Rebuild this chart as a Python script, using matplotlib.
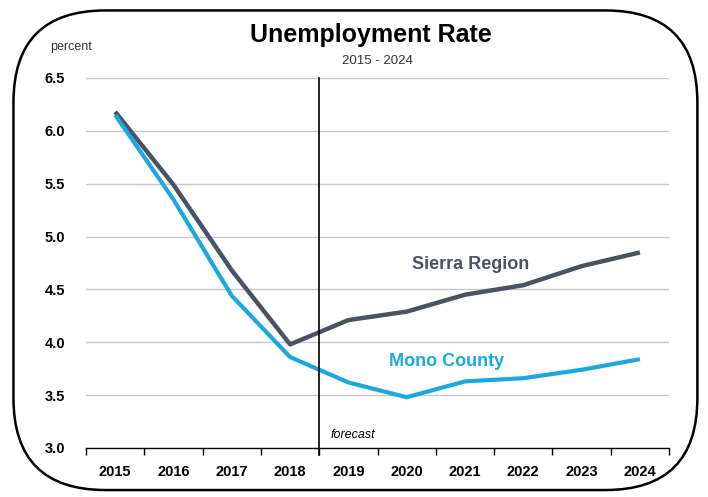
import matplotlib
matplotlib.use("Agg")
import matplotlib.pyplot as plt
from matplotlib.patches import FancyBboxPatch
import numpy as np

plt.rcParams["font.family"] = ["Liberation Sans Narrow", "Liberation Sans", "DejaVu Sans"]

years = ["2015", "2016", "2017", "2018", "2019", "2020", "2021", "2022", "2023", "2024"]
sierra_region = [6.18, 5.49, 4.68, 3.98, 4.21, 4.29, 4.45, 4.54, 4.72, 4.85]
mono_county = [6.15, 5.35, 4.44, 3.86, 3.62, 3.48, 3.63, 3.66, 3.74, 3.84]
y_ticks = [3.0, 3.5, 4.0, 4.5, 5.0, 5.5, 6.0, 6.5]

SIERRA_COLOR = "#4a5263"
MONO_COLOR = "#19a9e0"

fig = plt.figure(figsize=(7.08, 4.97), dpi=100)

# rounded frame around the whole chart
frame = FancyBboxPatch(
    (0.019, 0.014), 0.966, 0.965,
    boxstyle="round,pad=0,rounding_size=0.13",
    transform=fig.transFigure, facecolor="none", edgecolor="black",
    linewidth=1.8, mutation_aspect=708 / 497, zorder=-1,
)
fig.patches.append(frame)

ax = fig.add_axes([0.1215, 0.0986, 0.8235, 0.7445])
ax.set_facecolor("none")
x = np.arange(len(years))

ax.plot(x, sierra_region, color=SIERRA_COLOR, linewidth=3.2, solid_capstyle="butt", zorder=3)
ax.plot(x, mono_county, color=MONO_COLOR, linewidth=3.0, solid_capstyle="butt", zorder=4)

ax.set_xlim(-0.5, len(years) - 0.5)
ax.set_ylim(3.0, 6.5)
ax.set_yticks(y_ticks)
ax.set_yticklabels([f"{v:.1f}" for v in y_ticks], fontsize=10.5, fontweight="bold")
ax.yaxis.grid(True, color="#c8c8c8", linewidth=1.0)
ax.set_axisbelow(True)
ax.tick_params(axis="y", length=0, pad=15)

# category boundaries carry the x ticks, labels sit in the middle
ax.set_xticks(np.arange(-0.5, len(years)), minor=False)
ax.set_xticklabels([])
ax.set_xticks(x, minor=True)
ax.set_xticklabels(years, minor=True, fontsize=10.5, fontweight="bold")
ax.tick_params(axis="x", which="major", direction="out", length=5, width=1, color="black")
ax.tick_params(axis="x", which="minor", length=0, pad=12)

for side in ["top", "right", "left"]:
    ax.spines[side].set_visible(False)
ax.spines["bottom"].set_color("black")
ax.spines["bottom"].set_linewidth(1.0)

# forecast divider between 2018 and 2019
ax.plot([3.5, 3.5], [2.93, 6.5], color="black", linewidth=1.2, clip_on=False, zorder=5)
ax.text(3.7, 3.12, "forecast", fontsize=9, style="italic", ha="left", va="center")

ax.text(6.1, 4.74, "Sierra Region", color=SIERRA_COLOR, fontsize=13, fontweight="bold",
        ha="center", va="center")
ax.text(5.68, 3.82, "Mono County", color=MONO_COLOR, fontsize=13, fontweight="bold",
        ha="center", va="center")

fig.text(0.524, 0.93, "Unemployment Rate", fontsize=18, fontweight="bold",
         ha="center", va="center")
fig.text(0.533, 0.878, "2015 - 2024", fontsize=9.5, color="#333333", ha="center", va="center")
fig.text(0.071, 0.905, "percent", fontsize=9, color="#333333", ha="left", va="center")

fig.savefig("out.png", dpi=100)
